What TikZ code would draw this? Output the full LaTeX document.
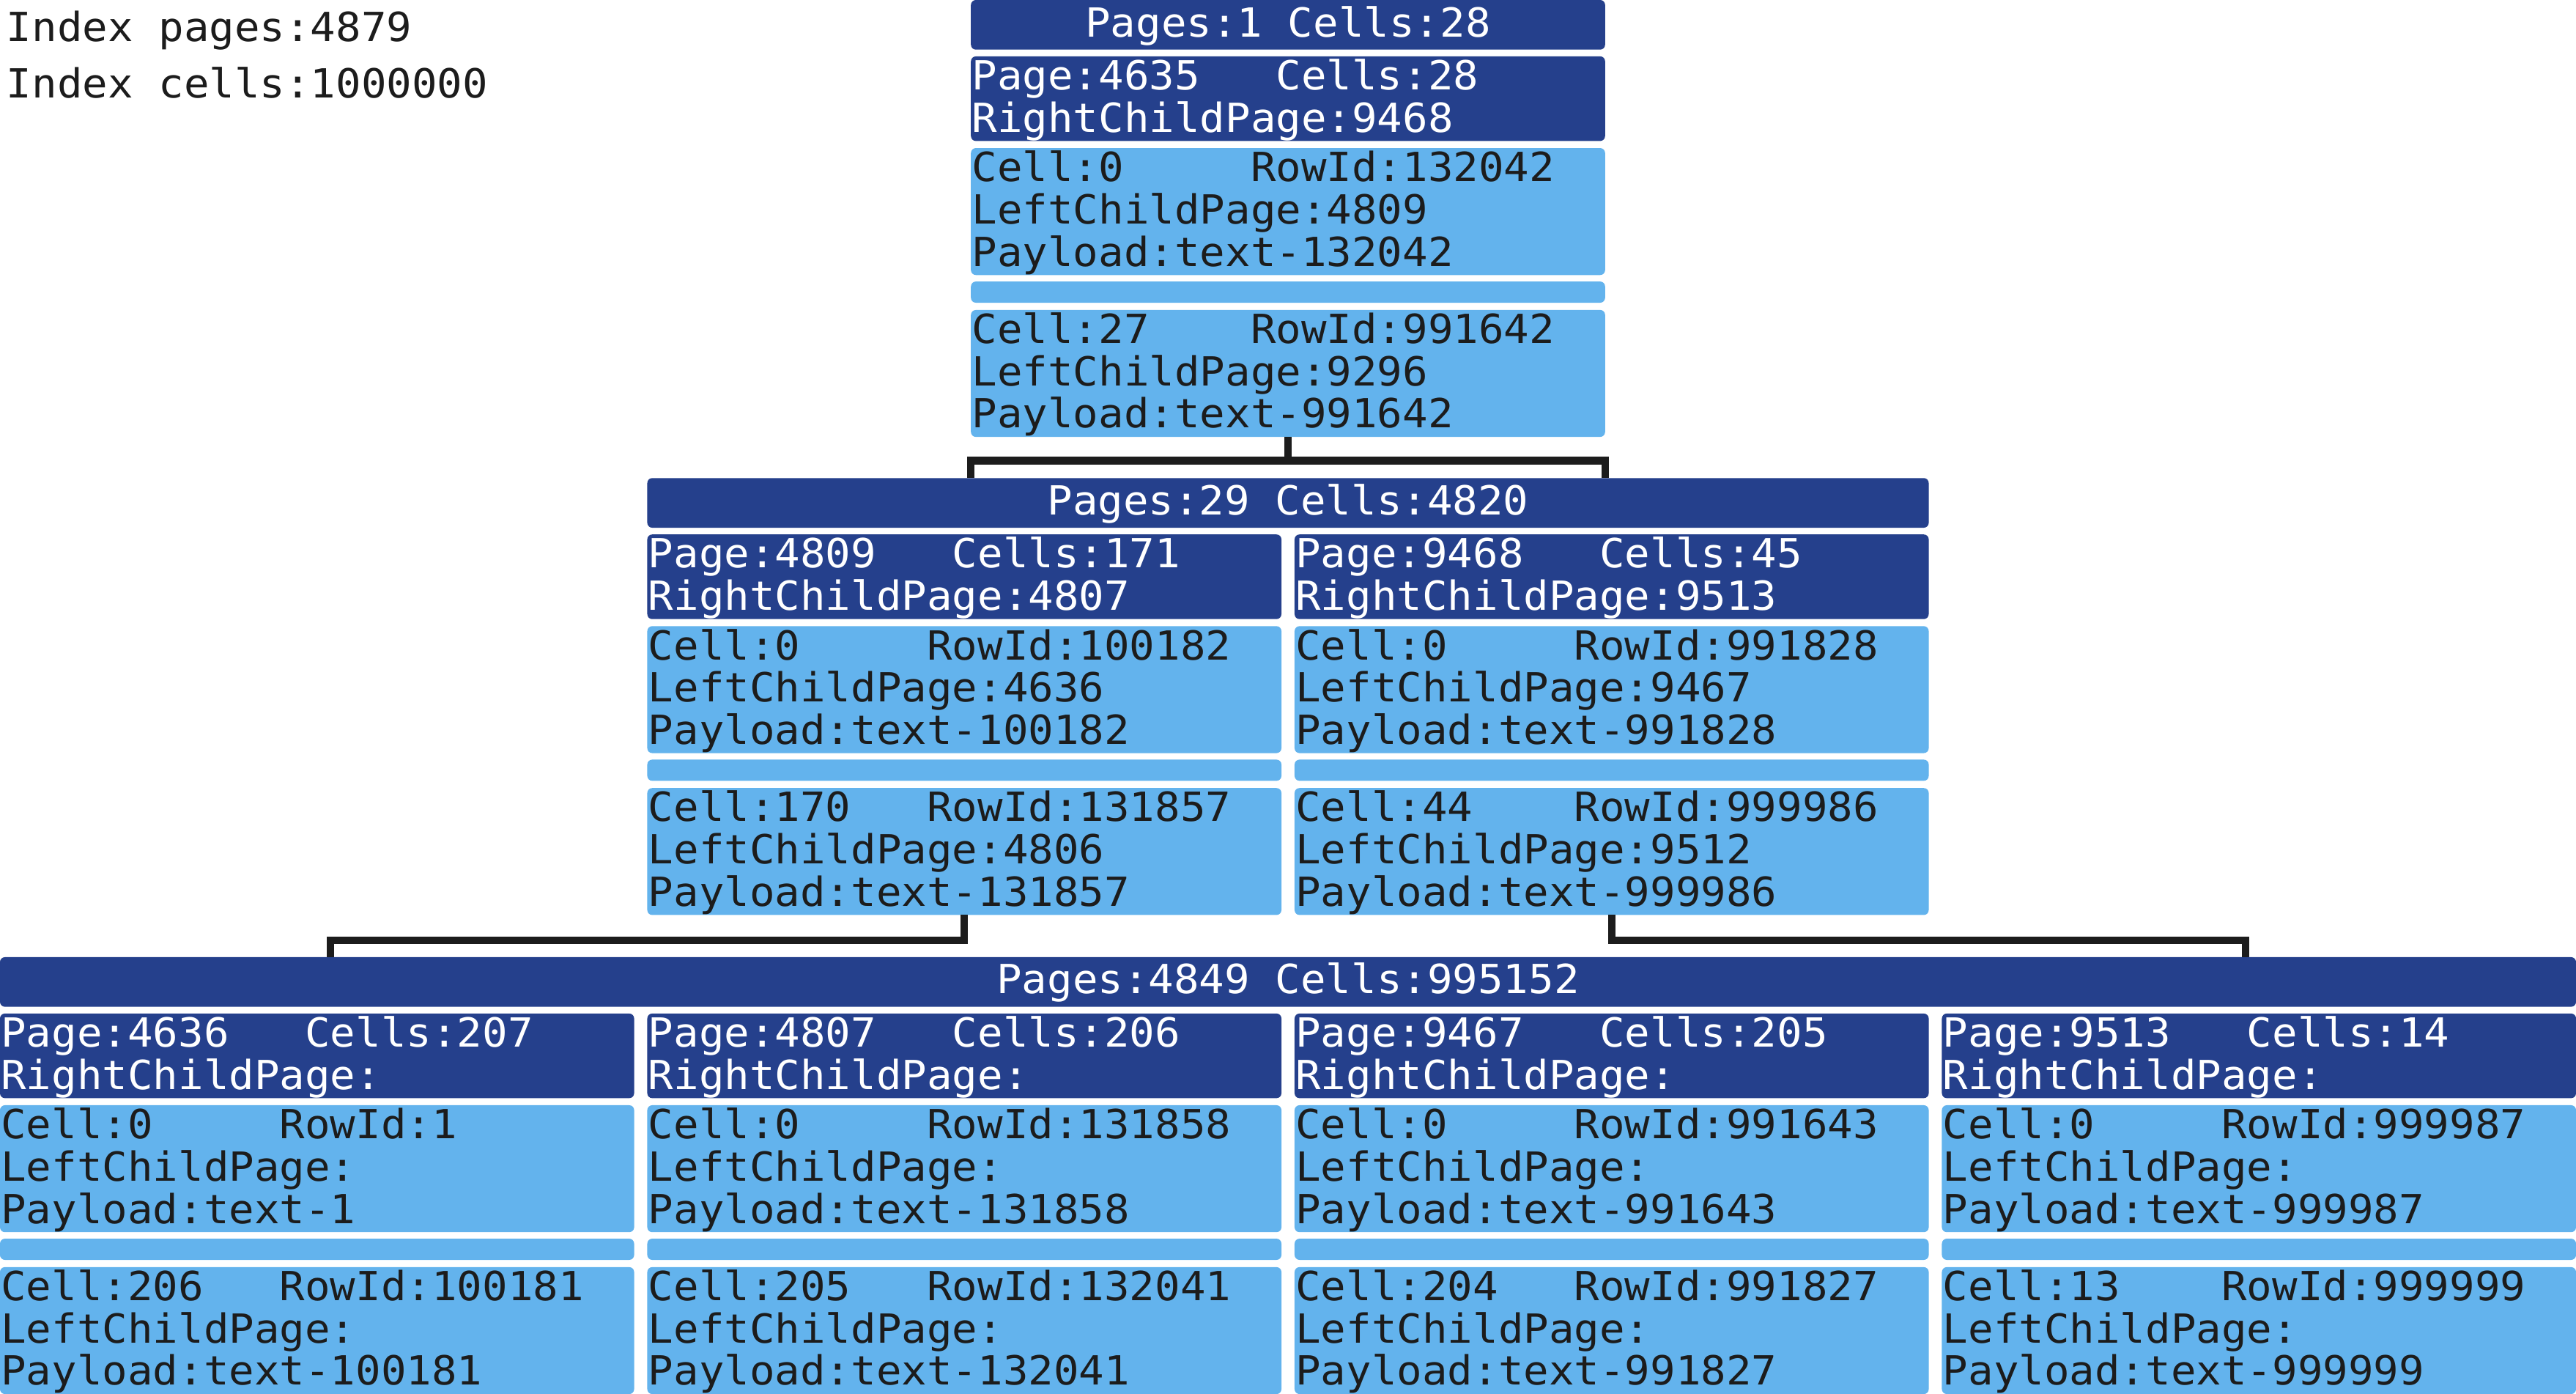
\documentclass[tikz,border=0pt]{standalone}
\usepackage{fontspec}
\newfontfamily\monof[FakeStretch=1.05]{DejaVu Sans Mono}
\newlength\cw
\settowidth\cw{\monof\fontsize{24.4pt}{25.7pt}\selectfont 0}
\definecolor{dk}{RGB}{37,64,140}
\definecolor{lt}{RGB}{99,179,237}
\definecolor{ink}{RGB}{28,28,28}
\newcommand\colA[2]{\makebox[#1\cw][l]{#2}}
\tikzset{
  boxbase/.style={rectangle, rounded corners=3pt, inner sep=0pt, outer sep=0pt, anchor=north west, draw=none},
  dkbox/.style={boxbase, fill=dk},
  ltbox/.style={boxbase, fill=lt},
  dktxt/.style={text=white, font=\monof\fontsize{24.4pt}{25.7pt}\selectfont, inner sep=0pt, outer sep=0pt, anchor=base west},
  lttxt/.style={dktxt, text=ink},
  conn/.style={draw=ink, line width=4.5pt}
}
\newcommand\tbox[6]{%
  \node[#5box, minimum width=386pt, minimum height={#4*25.75pt}] (#1) at (#2,#3) {};
  \foreach \t [count=\i] in {#6}{
    \node[#5txt] (#1-\i) at ([xshift=0.6pt, yshift={-20.4pt-(\i-1)*25.7pt}]#1.north west) {\t};
  }
}
\newcommand\pgbox[6]{%
  \tbox{#1-pg}{#2}{#3+34.3}{2}{dk}{{\colA{12}{Page:#4}Cells:#5},{RightChildPage:#6}}}
\newcommand\cellbox[7]{%
  \tbox{#1}{#2}{#3}{3}{lt}{{\colA{11}{Cell:#4}RowId:#5},{LeftChildPage:#6},{Payload:text-#7}}}
\newcommand\grp[8]{%
  \pgbox{#1}{#2}{#3}{#4}{#5}{#6}
  \cellbox{#1-c1}{#2}{#3+90.1}#7
  \node[ltbox, minimum width=386pt, minimum height=12.9pt] (#1-bar) at (#2,#3+171.3) {};
  \cellbox{#1-c2}{#2}{#3+188.6}#8
}
\begin{document}
\begin{tikzpicture}[x=1pt, y=-1pt]
\useasboundingbox (0,0) rectangle (1568,848.2);
% summary
\node[lttxt] (ip) at (4,25.3) {Index pages:4879};
\node[lttxt] (ic) at (4,59.5) {Index cells:1000000};
% level 1
\node[dkbox, minimum width=386pt, minimum height=30.2pt] (h1) at (591,0) {};
\node[dktxt, anchor=base] (h1-t) at ([yshift=-22.3pt]h1.north) {Pages:1 Cells:28};
\grp{r}{591}{0}{4635}{28}{9468}{{0}{132042}{4809}{132042}}{{27}{991642}{9296}{991642}}
% level 2
\node[dkbox, minimum width=780pt, minimum height=30.2pt] (h2) at (394,290.9) {};
\node[dktxt, anchor=base] (h2-t) at ([yshift=-22.3pt]h2.north) {Pages:29 Cells:4820};
\grp{a}{394}{290.9}{4809}{171}{4807}{{0}{100182}{4636}{100182}}{{170}{131857}{4806}{131857}}
\grp{b}{788}{290.9}{9468}{45}{9513}{{0}{991828}{9467}{991828}}{{44}{999986}{9512}{999986}}
% level 3
\node[dkbox, minimum width=1568pt, minimum height=30.2pt] (h3) at (0,582.4) {};
\node[dktxt, anchor=base] (h3-t) at ([yshift=-22.3pt]h3.north) {Pages:4849 Cells:995152};
\grp{p}{0}{582.4}{4636}{207}{}{{0}{1}{}{1}}{{206}{100181}{}{100181}}
\grp{q}{394}{582.4}{4807}{206}{}{{0}{131858}{}{131858}}{{205}{132041}{}{132041}}
\grp{s}{788}{582.4}{9467}{205}{}{{0}{991643}{}{991643}}{{204}{991827}{}{991827}}
\grp{u}{1182}{582.4}{9513}{14}{}{{0}{999987}{}{999987}}{{13}{999999}{}{999999}}
% connectors
\coordinate (j0l) at (591,280.3);
\coordinate (j0r) at (977,280.3);
\draw[conn] (r-c2.south) |- (j0l) -- (j0l |- h2.north);
\draw[conn] (r-c2.south) |- (j0r) -- (j0r |- h2.north);
\coordinate (jal) at (201,572.2);
\coordinate (jbr) at (1367,572.2);
\draw[conn] (a-c2.south) |- (jal) -- (jal |- h3.north);
\draw[conn] (b-c2.south) |- (jbr) -- (jbr |- h3.north);
\end{tikzpicture}
\end{document}
